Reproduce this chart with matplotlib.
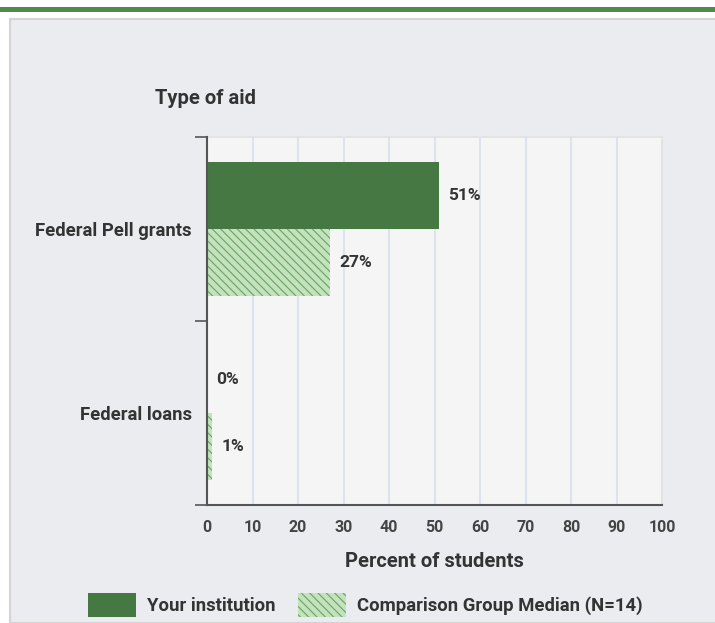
import numpy as np
import matplotlib
matplotlib.use('Agg')
import matplotlib.pyplot as plt
from matplotlib.patches import Patch, Rectangle

# data
categories = ['Federal Pell grants', 'Federal loans']
institution = [51, 0]
comparison = [27, 1]
series_names = ['Your institution', 'Comparison Group Median (N=14)']
xticks = [0, 10, 20, 30, 40, 50, 60, 70, 80, 90, 100]

# styles
dark_green = '#467843'
light_green = '#c3e2bd'
hatch_green = '#6aa463'
panel_bg = '#ebecf0'
plot_bg = '#f5f5f5'
text_col = '#333333'
axis_col = '#555555'

plt.rcParams['font.family'] = ['Roboto', 'DejaVu Sans']
plt.rcParams['hatch.linewidth'] = 0.8
plt.rcParams['hatch.color'] = hatch_green

W, H = 715, 623
fig = plt.figure(figsize=(W / 100, H / 100), dpi=100)
fig.patch.set_facecolor('white')

# page decoration: green bar and gray panel
fig.add_artist(Rectangle((0, 1 - 12 / H), 1, 5 / H, transform=fig.transFigure,
                         facecolor='#4e8a4a', edgecolor='none', zorder=-2))
fig.add_artist(Rectangle((10 / W, 0), 1, 1 - 19 / H, transform=fig.transFigure,
                         facecolor=panel_bg, edgecolor='#d4d4d4', linewidth=1.5, zorder=-2))

ax = fig.add_axes([207 / W, 1 - 505 / H, (662 - 207) / W, (505 - 137) / H])
ax.set_facecolor(plot_bg)

y = np.arange(len(categories))
h = 0.366
b1 = ax.barh(y - h / 2, institution, height=h, color=dark_green, edgecolor='none', zorder=3)
b2 = ax.barh(y + h / 2, comparison, height=h, color=light_green, edgecolor=hatch_green,
             linewidth=0, hatch='\\\\\\\\', zorder=3)

for bars in (b1, b2):
    for rect in bars:
        v = rect.get_width()
        ax.text(v + 2.1, rect.get_y() + rect.get_height() / 2, '{:d}%'.format(int(v)),
                va='center', ha='left', fontsize=12.5, fontweight='bold', color=text_col, zorder=4)

ax.set_xlim(0, 100)
ax.set_ylim(len(categories) - 0.5, -0.5)
ax.set_xticks(xticks)
ax.set_xticklabels([str(t) for t in xticks], fontsize=11.5, color='#444444', fontweight='bold')
ax.tick_params(axis='x', length=0, pad=11)

ax.set_yticks([-0.5, 0.5, 1.5])
ax.set_yticklabels([])
ax.set_yticks(y, minor=True)
ax.set_yticklabels(categories, minor=True, fontsize=13.3, color=text_col, fontweight='bold')
ax.tick_params(axis='y', which='major', length=9, width=1.2, color=axis_col)
ax.tick_params(axis='y', which='minor', length=0, pad=11)

ax.grid(axis='x', color='#dde3ee', linewidth=1.5, zorder=0)
ax.set_axisbelow(True)

for s in ('top', 'right'):
    ax.spines[s].set_color('#e2e2e2')
    ax.spines[s].set_linewidth(1.2)
for s in ('left', 'bottom'):
    ax.spines[s].set_color(axis_col)
    ax.spines[s].set_linewidth(1.5)
    ax.spines[s].set_zorder(5)

ax.set_xlabel('Percent of students', fontsize=14.5, color=text_col, fontweight='bold', labelpad=12)
fig.text(155 / W, 1 - 98 / H, 'Type of aid', fontsize=14.5, color=text_col, fontweight='bold',
         ha='left', va='center')

handles = [Patch(facecolor=dark_green, edgecolor='none'),
           Patch(facecolor=light_green, edgecolor=hatch_green, linewidth=0, hatch='\\\\\\\\')]
leg = fig.legend(handles, series_names, loc='center', bbox_to_anchor=(365 / W, 1 - 605 / H),
                 ncol=2, frameon=False, fontsize=13.3, handlelength=2.6, handleheight=1.55,
                 handletextpad=0.6, columnspacing=1.2)
for t in leg.get_texts():
    t.set_color(text_col)
    t.set_fontweight('bold')

fig.savefig('out.png', dpi=100, facecolor=fig.get_facecolor())
